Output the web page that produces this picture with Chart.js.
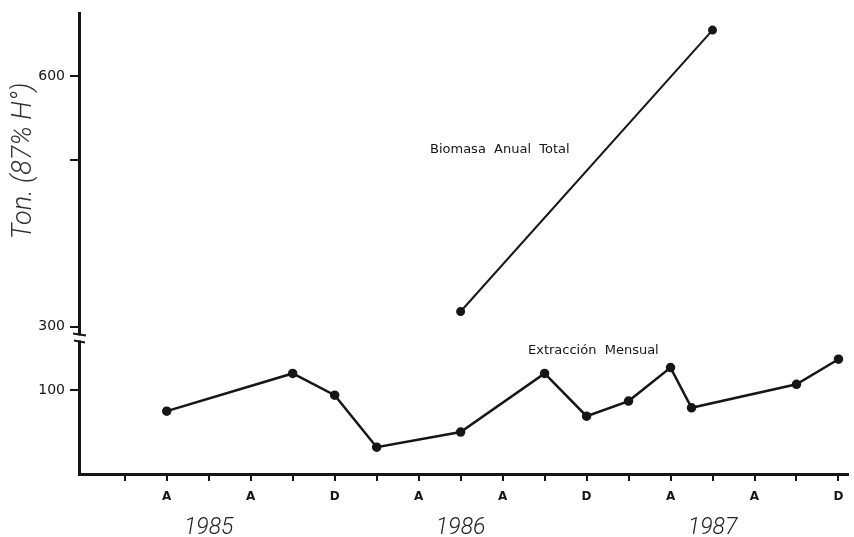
<!DOCTYPE html>
<html>
<head>
<meta charset="utf-8">
<script src="https://cdn.jsdelivr.net/npm/chart.js@4.4.1/dist/chart.umd.min.js"></script>
<style>
  html, body { margin: 0; padding: 0; background: #fff; }
  canvas { display: block; }
</style>
</head>
<body>
<canvas id="grafico" width="854" height="537"></canvas>
<script>
// meses contados desde enero 1985 (0 = ene 85)
const mesesExtraccion = [3, 9, 11, 13, 17, 21, 23, 25, 27, 28, 33, 35];
const valoresExtraccion = [75, 120, 94, 32, 50, 120, 69, 87, 127, 79, 107, 137];

const mesesBiomasa = [17, 29];
const valoresBiomasa = [318, 655];

const ticksMeses = [1, 3, 5, 7, 9, 11, 13, 15, 17, 19, 21, 23, 25, 27, 29, 31, 33, 35];
const letrasMes = { 3: "A", 7: "A", 11: "D" };

const ticksAnios = [5, 17, 29];
const etiquetasAnios = ["1985", "1986", "1987"];

const ticksSuperior = [300, 500, 600];
const ticksInferior = [100];

const negro = "#161616";

// corte del eje y + titulo + rotulos de las series
const pluginCorte = {
    id: "corte",
    afterDraw(chart) {
        const ctx = chart.ctx;
        const xEje = chart.chartArea.left;
        const yCorte = chart.scales.yUp.bottom;

        ctx.save();
        ctx.fillStyle = "#fff";
        ctx.fillRect(xEje - 3, yCorte - 2, 7, 5);
        ctx.strokeStyle = negro;
        ctx.lineWidth = 2;
        ctx.beginPath();
        ctx.moveTo(xEje - 6, yCorte - 4);
        ctx.lineTo(xEje + 7, yCorte - 2);
        ctx.moveTo(xEje - 5, yCorte + 3);
        ctx.lineTo(xEje + 6, yCorte + 5);
        ctx.stroke();

        ctx.fillStyle = negro;
        ctx.font = "13px 'DejaVu Sans'";
        ctx.textBaseline = "middle";
        ctx.textAlign = "left";
        ctx.fillText("Biomasa  Anual  Total", 430, 150);
        ctx.fillText("Extracción  Mensual", 528, 351);

        ctx.translate(24, 161);
        ctx.rotate(-Math.PI / 2);
        ctx.textAlign = "center";
        ctx.font = "italic 300 27px Roboto";
        ctx.fillStyle = "#333";
        ctx.fillText("Ton. (87% H°)", 0, 0);
        ctx.restore();
    }
};

function fijarAncho(scale) { scale.width = 79; }

new Chart(document.getElementById("grafico"), {
    type: "line",
    data: {
        datasets: [
            {
                label: "Extracción Mensual",
                data: mesesExtraccion.map((m, i) => ({ x: m, y: valoresExtraccion[i] })),
                yAxisID: "yLow",
                borderColor: negro,
                backgroundColor: negro,
                borderWidth: 2.5,
                pointRadius: 3.5,
                tension: 0
            },
            {
                label: "Biomasa Anual Total",
                data: mesesBiomasa.map((m, i) => ({ x: m, y: valoresBiomasa[i] })),
                yAxisID: "yUp",
                borderColor: negro,
                backgroundColor: negro,
                borderWidth: 2,
                pointRadius: 3.5,
                tension: 0
            }
        ]
    },
    options: {
        responsive: false,
        animation: false,
        clip: false,
        layout: { padding: { top: 12, right: 4, left: 0, bottom: 0 } },
        plugins: { legend: { display: false }, tooltip: { enabled: false } },
        scales: {
            x: {
                type: "linear",
                min: -1.18,
                max: 35.43,
                afterBuildTicks: s => { s.ticks = ticksMeses.map(v => ({ value: v })); },
                afterFit: s => { s.height = 30; },
                ticks: {
                    autoSkip: false,
                    maxRotation: 0,
                    padding: 9,
                    color: negro,
                    font: { family: "DejaVu Sans", size: 12, weight: "bold" },
                    callback: v => letrasMes[v % 12] || ""
                },
                grid: { drawOnChartArea: false, tickLength: 7, color: negro, lineWidth: 2 },
                border: { color: negro, width: 3 }
            },
            xYear: {
                type: "linear",
                position: "bottom",
                min: -1.18,
                max: 35.43,
                afterBuildTicks: s => { s.ticks = ticksAnios.map(v => ({ value: v })); },
                afterFit: s => { s.height = 33; },
                ticks: {
                    autoSkip: false,
                    maxRotation: 0,
                    padding: 2,
                    color: "#222",
                    font: { family: "Roboto", size: 23, style: "italic", weight: "300" },
                    callback: v => etiquetasAnios[ticksAnios.indexOf(v)]
                },
                grid: { display: false },
                border: { display: false }
            },
            yLow: {
                type: "linear",
                position: "left",
                stack: "ton",
                stackWeight: 137,
                min: 0,
                max: 163,
                afterBuildTicks: s => { s.ticks = ticksInferior.map(v => ({ value: v })); },
                afterFit: fijarAncho,
                ticks: {
                    padding: 5,
                    color: negro,
                    font: { family: "DejaVu Sans", size: 14 }
                },
                grid: { drawOnChartArea: false, tickLength: 9, color: negro, lineWidth: 2 },
                border: { color: negro, width: 3 }
            },
            yUp: {
                type: "linear",
                position: "left",
                stack: "ton",
                stackWeight: 325,
                min: 287,
                max: 675,
                afterBuildTicks: s => { s.ticks = ticksSuperior.map(v => ({ value: v })); },
                afterFit: fijarAncho,
                ticks: {
                    padding: 5,
                    color: negro,
                    font: { family: "DejaVu Sans", size: 14 },
                    callback: v => (v === 300 || v === 600 ? String(v) : "")
                },
                grid: { drawOnChartArea: false, tickLength: 9, color: negro, lineWidth: 2 },
                border: { color: negro, width: 3 }
            }
        }
    },
    plugins: [pluginCorte]
});
</script>
</body>
</html>
